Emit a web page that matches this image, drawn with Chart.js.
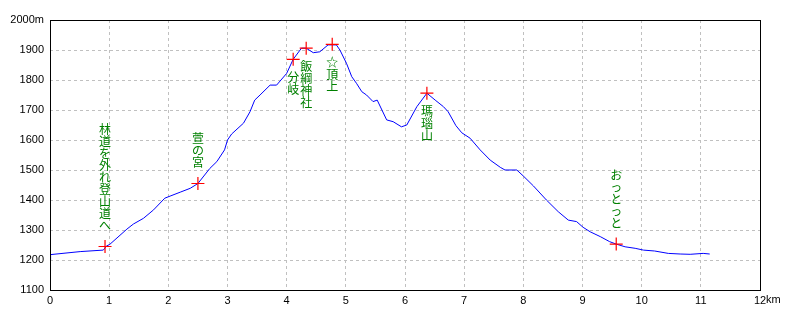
<!DOCTYPE html>
<html>
<head>
<meta charset="utf-8">
<script src="https://cdn.jsdelivr.net/npm/chart.js@4"></script>
<style>
html,body{margin:0;padding:0;background:#fff;}
#wrap{width:800px;height:320px;}
</style>
</head>
<body>
<div id="wrap"><canvas id="c" width="800" height="320"></canvas></div>
<script>
// distance along the route (km)
const distanceKm = [0.00,0.01,0.51,0.90,0.93,0.95,1.01,1.30,1.41,1.58,1.75,1.94,2.03,2.20,2.37,2.50,2.70,2.82,2.95,3.00,3.07,3.27,3.38,3.46,3.55,3.72,3.83,4.00,4.11,4.25,4.33,4.45,4.56,4.70,4.77,4.84,4.90,5.01,5.10,5.18,5.27,5.35,5.46,5.53,5.61,5.69,5.80,5.94,6.03,6.20,6.37,6.51,6.65,6.73,6.86,6.96,7.10,7.27,7.44,7.61,7.69,7.89,8.00,8.17,8.39,8.59,8.76,8.90,9.01,9.13,9.30,9.46,9.57,9.72,9.89,10.03,10.22,10.45,10.65,10.82,11.04,11.15];
// elevation (m)
const elevationM = [1200,1218,1228,1233,1240,1246,1252,1303,1320,1339,1367,1406,1413,1426,1439,1455,1505,1528,1567,1600,1620,1656,1694,1733,1750,1783,1783,1822,1869,1906,1906,1891,1894,1917,1917,1917,1900,1856,1811,1789,1761,1750,1728,1733,1700,1667,1661,1644,1650,1711,1756,1733,1711,1694,1648,1624,1606,1567,1533,1509,1500,1500,1480,1447,1400,1361,1333,1328,1309,1294,1278,1261,1253,1244,1239,1233,1230,1222,1220,1219,1222,1220];

// waypoints
const waypointKm = [0.93, 2.50, 4.11, 4.33, 4.77, 6.37, 9.57];
const waypointElev = [1245, 1455, 1869, 1906, 1919, 1756, 1253];
const waypointNames = ['林道を外れ登山道へ','萱の宮','分岐','飯綱神社','☆頂上','瑪瑙山','おっとっと'];

// axis ticks
const xTicks = [0,1,2,3,4,5,6,7,8,9,10,11,12];
const yTicks = [1100,1200,1300,1400,1500,1600,1700,1800,1900,2000];

const profile = distanceKm.map((x,i)=>({x:x, y:elevationM[i]}));
const points = waypointKm.map((x,i)=>({x:x, y:waypointElev[i]}));

const tickFont = {family:'"Liberation Sans", Arial, sans-serif', size:11};

const framePlugin = {
  id:'frame',
  afterDatasetsDraw(chart){
    const ctx = chart.ctx;
    const xs = chart.scales.x, ys = chart.scales.y;
    ctx.save();
    ctx.fillStyle = '#008000';
    ctx.font = '12px "Noto Sans CJK JP", sans-serif';
    ctx.textAlign = 'center';
    ctx.textBaseline = 'top';
    waypointNames.forEach((name,i)=>{
      const px = xs.getPixelForValue(waypointKm[i]);
      const py = ys.getPixelForValue(waypointElev[i]);
      const chars = Array.from(name);
      const pitch = 12;
      const top = waypointElev[i] < 1500 ? py - 15 - chars.length*pitch : py + 12;
      chars.forEach((ch,j)=>ctx.fillText(ch, px, top + j*pitch));
    });
    ctx.restore();
  },
  afterDraw(chart){
    const ctx = chart.ctx, a = chart.chartArea;
    ctx.save();
    ctx.strokeStyle = '#000';
    ctx.lineWidth = 1;
    ctx.strokeRect(Math.round(a.left)+0.5, Math.round(a.top)+0.5, Math.round(a.right-a.left), Math.round(a.bottom-a.top));
    const xs = chart.scales.x;
    ctx.font = '11px "Liberation Sans", Arial, sans-serif';
    ctx.fillStyle = '#000';
    ctx.textBaseline = 'top';
    ctx.textAlign = 'left';
    const last = xTicks[xTicks.length-1];
    const w = ctx.measureText(String(last)).width;
    ctx.fillText('km', xs.getPixelForValue(last) + w/2, a.bottom + 4);
    ctx.restore();
  }
};

new Chart(document.getElementById('c'), {
  type:'scatter',
  data:{
    datasets:[
      {data:profile, showLine:true, borderColor:'#0000ff', borderWidth:1, pointRadius:0, tension:0, fill:false, order:2},
      {data:points, showLine:false, pointStyle:'cross', pointRadius:6.5, borderColor:'#ff0000', backgroundColor:'#ff0000', pointBorderWidth:1.2, borderWidth:1.2, order:1}
    ]
  },
  options:{
    responsive:false,
    animation:false,
    devicePixelRatio:1,
    layout:{padding:{left:0, top:20, right:40, bottom:0}},
    plugins:{legend:{display:false}, tooltip:{enabled:false}},
    scales:{
      x:{
        type:'linear', min:0, max:12,
        afterBuildTicks(s){ s.ticks = xTicks.map(v=>({value:v})); },
        afterFit(s){ s.height = 30; },
        ticks:{font:tickFont, color:'#000', padding:4, maxRotation:0, autoSkip:false,
          callback:(v)=>String(v)},
        grid:{color:'#c0c0c0', lineWidth:1, drawTicks:false},
        border:{display:false, dash:[3,3]}
      },
      y:{
        type:'linear', min:1100, max:2000,
        afterBuildTicks(s){ s.ticks = yTicks.map(v=>({value:v})); },
        afterFit(s){ s.width = 50; },
        ticks:{font:tickFont, color:'#000', padding:6, autoSkip:false,
          callback:(v)=> v===yTicks[yTicks.length-1] ? v+'m' : String(v)},
        grid:{color:'#c0c0c0', lineWidth:1, drawTicks:false},
        border:{display:false, dash:[3,3]}
      }
    }
  },
  plugins:[framePlugin]
});
</script>
</body>
</html>
